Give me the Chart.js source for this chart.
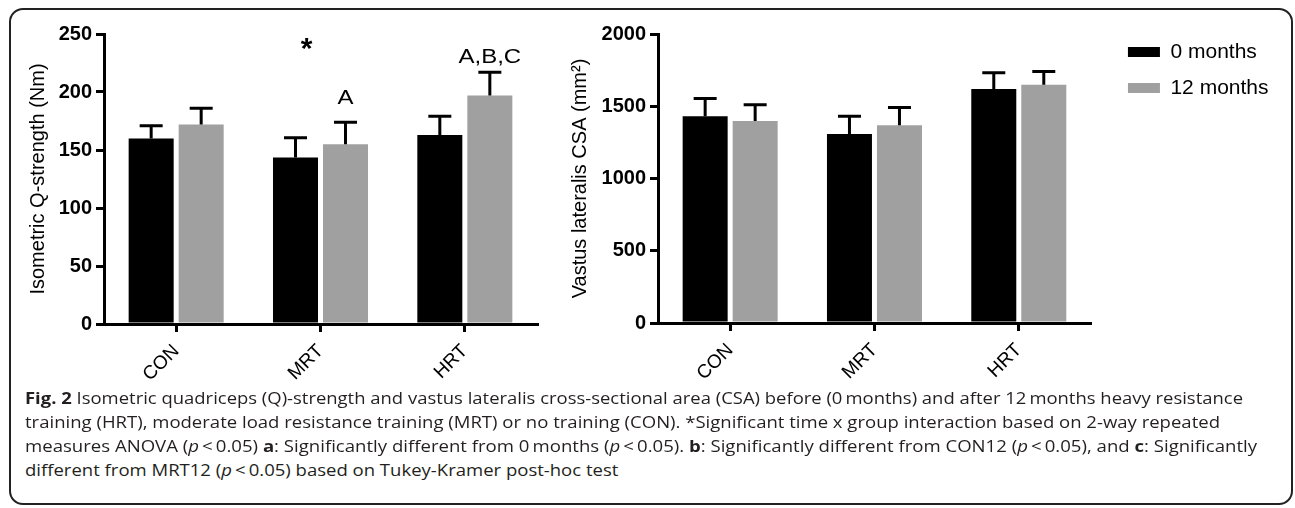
<!DOCTYPE html>
<html>
<head>
<meta charset="utf-8">
<script src="https://cdn.jsdelivr.net/npm/chart.js@4.4.0/dist/chart.umd.min.js"></script>
<style>
body { margin:0; background:#fff; width:1295px; height:508px; position:relative; overflow:hidden; }
#frame { position:absolute; left:9px; top:8px; width:1284px; height:497px; border:2px solid #222; border-radius:14px; box-sizing:border-box; }
#c1 { position:absolute; left:0; top:0; }
#c2 { position:absolute; left:548px; top:0; }
.cap { position:absolute; left:25px; white-space:nowrap; font-family:"Open Sans", sans-serif; font-size:15.5px; line-height:24px; color:#231f20; transform-origin:0 0; }
.cap b { font-weight:700; }
</style>
</head>
<body>
<div id="frame"></div>
<canvas id="c1" width="548" height="390"></canvas>
<canvas id="c2" width="745" height="390"></canvas>
<div class="cap" style="top:386px"><b>Fig. 2</b> Isometric quadriceps (Q)-strength and vastus lateralis cross-sectional area (CSA) before (0&#8201;months) and after 12&#8201;months heavy resistance</div>
<div class="cap" style="top:410px">training (HRT), moderate load resistance training (MRT) or no training (CON). *Significant time x group interaction based on 2-way repeated</div>
<div class="cap" style="top:434px">measures ANOVA (<i>p</i>&#8201;&lt;&#8201;0.05) <b>a</b>: Significantly different from 0&#8201;months (<i>p</i>&#8201;&lt;&#8201;0.05). <b>b</b>: Significantly different from CON12 (<i>p</i>&#8201;&lt;&#8201;0.05), and <b>c</b>: Significantly</div>
<div class="cap" style="top:458px">different from MRT12 (<i>p</i>&#8201;&lt;&#8201;0.05) based on Tukey-Kramer post-hoc test</div>
<script>
var groups = ['CON', 'MRT', 'HRT'];
var seriesNames = ['0 months', '12 months'];
var seriesColors = ['#000000', '#a0a0a0'];

// isometric Q-strength (Nm), mean and SD
var strength0 = [160, 143.5, 163];
var strength12 = [172, 155, 197];
var strengthSd0 = [11, 17, 16];
var strengthSd12 = [14, 19, 20];

// vastus lateralis CSA (mm2), mean and SD
var csa0 = [1430, 1308, 1620];
var csa12 = [1398, 1368, 1649];
var csaSd0 = [124, 122, 111];
var csaSd12 = [113, 124, 92];

var strengthTicks = [0, 50, 100, 150, 200, 250];
var csaTicks = [0, 500, 1000, 1500, 2000];

// letters above the 12 months bars (left panel)
var letters = ['', 'A', 'A,B,C'];
var starGroup = 'MRT';

var family = "'Liberation Sans', Arial, sans-serif";
Chart.defaults.font.family = family;
Chart.defaults.color = '#000';

var errorBars = {
  id: 'errorBars',
  afterDatasetsDraw: function(chart) {
    var ctx = chart.ctx, y = chart.scales.y;
    ctx.save();
    ctx.strokeStyle = '#000';
    ctx.lineWidth = 3;
    chart.data.datasets.forEach(function(ds, i) {
      chart.getDatasetMeta(i).data.forEach(function(bar, j) {
        var top = y.getPixelForValue(ds.data[j] + ds.sd[j]);
        ctx.beginPath();
        ctx.moveTo(bar.x, bar.y);
        ctx.lineTo(bar.x, top);
        ctx.moveTo(bar.x - 11.5, top);
        ctx.lineTo(bar.x + 11.5, top);
        ctx.stroke();
      });
    });
    ctx.restore();
  }
};

var marks = {
  id: 'marks',
  afterDatasetsDraw: function(chart) {
    var ctx = chart.ctx, y = chart.scales.y, x = chart.scales.x;
    var ds = chart.data.datasets[1];
    var bars = chart.getDatasetMeta(1).data;
    ctx.save();
    ctx.fillStyle = '#000';
    ctx.textAlign = 'center';
    ctx.textBaseline = 'alphabetic';
    ctx.font = '20px ' + family;
    letters.forEach(function(t, i) {
      if (!t) return;
      var gap = i == 2 ? 8 : 16;
      ctx.save();
      ctx.translate(bars[i].x, y.getPixelForValue(ds.data[i] + ds.sd[i] + gap));
      ctx.scale(1.2, 1);
      ctx.fillText(t, 0, 0);
      ctx.restore();
    });
    ctx.font = 'bold 30px ' + family;
    ctx.fillText('*', x.getPixelForValue(groups.indexOf(starGroup)) - 14, y.getPixelForValue(229));
    ctx.restore();
  }
};

// push the legend a little away from the plot
var legendGap = {
  id: 'legendGap',
  afterLayout: function(chart) {
    var lg = chart.legend;
    var dx = chart.chartArea.right + 22 - lg.left;
    lg.left += dx;
    lg.right += dx;
  }
};

function makeDatasets(a, b, sa, sb) {
  return [a, b].map(function(d, i) {
    return {
      label: seriesNames[i],
      data: d,
      sd: [sa, sb][i],
      backgroundColor: seriesColors[i],
      borderWidth: 0,
      categoryPercentage: 0.693,
      barPercentage: 0.9
    };
  });
}

function xAxis(h) {
  return {
    grid: { offset: false, drawOnChartArea: false, tickLength: 8, color: '#000', lineWidth: 3 },
    border: { color: '#000', width: 3 },
    ticks: { color: '#000', font: { size: 19 }, minRotation: 45, maxRotation: 45, padding: 8 },
    afterFit: function(s) { s.height = h; }
  };
}

function yAxis(ticks, title, w, padTop) {
  return {
    min: ticks[0],
    max: ticks[ticks.length - 1],
    afterBuildTicks: function(s) { s.ticks = ticks.map(function(v) { return { value: v }; }); },
    ticks: { color: '#000', font: { size: 20, weight: 'bold' }, padding: 4, callback: function(v) { return String(v); } },
    grid: { drawOnChartArea: false, tickLength: 8, color: '#000', lineWidth: 3 },
    border: { color: '#000', width: 3 },
    title: { display: true, text: title, color: '#000', font: { size: 20 } },
    afterFit: function(s) { s.width = w; if (padTop) s.paddingTop = padTop; }
  };
}

new Chart(document.getElementById('c1'), {
  type: 'bar',
  data: { labels: groups, datasets: makeDatasets(strength0, strength12, strengthSd0, strengthSd12) },
  options: {
    responsive: false,
    animation: false,
    layout: { padding: { left: 22.5, top: 34, right: 11, bottom: 0 } },
    plugins: { legend: { display: false }, tooltip: { enabled: false } },
    scales: {
      x: xAxis(66),
      y: yAxis(strengthTicks, 'Isometric Q-strength (Nm)', 81.5)
    }
  },
  plugins: [errorBars, marks]
});

new Chart(document.getElementById('c2'), {
  type: 'bar',
  data: { labels: groups, datasets: makeDatasets(csa0, csa12, csaSd0, csaSd12) },
  options: {
    responsive: false,
    animation: false,
    layout: { padding: { left: 16, top: 26.5, right: 36.5, bottom: 0 } },
    plugins: {
      legend: {
        position: 'right',
        align: 'start',
        labels: { boxWidth: 32, boxHeight: 10, padding: 15, color: '#000', font: { size: 21 } }
      },
      tooltip: { enabled: false }
    },
    scales: {
      x: xAxis(67),
      y: yAxis(csaTicks, 'Vastus lateralis CSA (mm\u00b2)', 94, 34)
    }
  },
  plugins: [errorBars, legendGap]
});

// stretch each caption line to the width it has in the figure
var capWidths = [1218, 1195, 1232];
var caps = document.querySelectorAll('.cap');
var sum = 0;
capWidths.forEach(function(w, i) {
  var k = w / caps[i].getBoundingClientRect().width;
  sum += k;
  caps[i].style.transform = 'scaleX(' + k + ')';
});
caps[3].style.transform = 'scaleX(' + (sum / 3) + ')';
</script>
</body>
</html>
